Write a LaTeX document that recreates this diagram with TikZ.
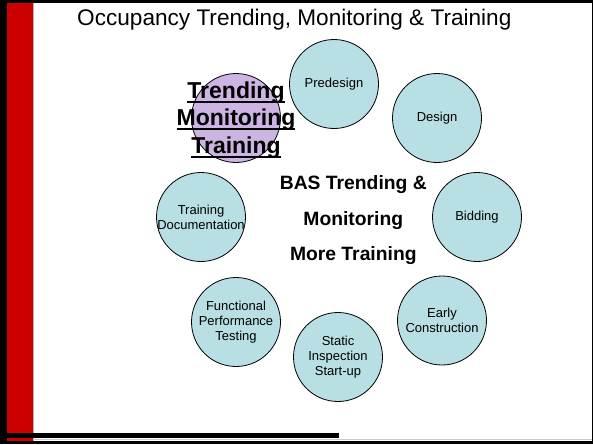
\documentclass[tikz,border=0pt]{standalone}
\usepackage{fontspec}
\setmainfont{Liberation Sans}
\definecolor{slidered}{HTML}{CC0000}
\definecolor{teal}{HTML}{B8DFE3}
\definecolor{lilac}{HTML}{CDB5E3}
\newcommand\thickul[1]{\setbox0\hbox{#1}\rlap{\vrule height -3pt depth 5pt width \wd0}\box0}
\tikzset{
  stage/.style={circle, draw=black, line width=0.8pt, fill=teal, minimum size=89pt, inner sep=0pt},
  active/.style={stage, fill=lilac},
  stagetext/.style={align=center, font=\fontsize{13}{15}\selectfont, inner sep=0pt},
  bigtext/.style={anchor=base, inner sep=0pt, font=\fontsize{19.3}{22}\selectfont\bfseries},
  ultext/.style={anchor=base, inner sep=0pt, font=\fontsize{23}{27}\selectfont\bfseries},
}
\begin{document}
\begin{tikzpicture}[x=1pt,y=-1pt]
\useasboundingbox (0,0) rectangle (593,444);
% slide frame
\fill[black] (0,0) rectangle (593,444);
\fill[white] (33,3) rectangle (592,441);
\fill[slidered] (7,3) rectangle (33,441);
\draw[gray!60, line width=0.8pt] (33.5,3) -- (33.5,441);
\draw[gray!40, line width=0.8pt] (33,439.5) -- (592,439.5);
\fill[black] (7,433) rectangle (339,438.3);
% title
\node[anchor=base, inner sep=0pt, font=\fontsize{22.6}{26}\selectfont] (title) at (294.3,26) {Occupancy Trending, Monitoring \& Training};
% stages
\node[active] (trend) at (236,118) {};
\node[stage] (pre) at (334,84) {};
\node[stage] (des) at (437,118) {};
\node[stage] (bid) at (477,217) {};
\node[stage] (early) at (442,320.5) {};
\node[stage] (static) at (338,357) {};
\node[stage] (func) at (236,322) {};
\node[stage] (tdoc) at (201,217) {};
\node[stagetext] (preT) at (pre) {Predesign};
\node[stagetext] (desT) at (des) {Design};
\node[stagetext] (bidT) at (bid) {Bidding};
\node[stagetext] (earlyT) at (early) {Early\\Construction};
\node[stagetext] (staticT) at (static) {Static\\Inspection\\Start-up};
\node[stagetext] (funcT) at (func) {Functional\\Performance\\Testing};
\node[stagetext] (tdocT) at (tdoc) {Training\\Documentation};
% active stage label
\node[ultext] (ul1) at (236,98) {\thickul{Trending}};
\node[ultext] (ul2) at (236,125) {\thickul{Monitoring}};
\node[ultext] (ul3) at (236,153) {\thickul{Training}};
% central text
\node[bigtext] (bas1) at (353.3,189) {BAS Trending \&};
\node[bigtext] (bas2) at (353.3,225.7) {Monitoring};
\node[bigtext] (bas3) at (353.3,260.7) {More Training};
\end{tikzpicture}
\end{document}
